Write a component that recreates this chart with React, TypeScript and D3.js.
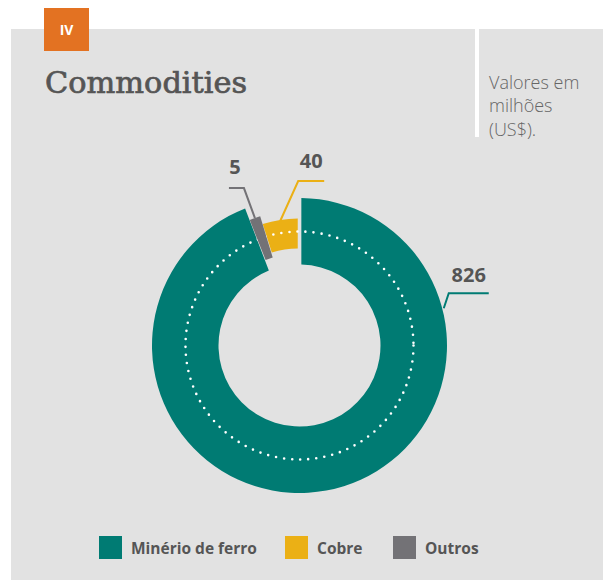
import * as d3 from 'd3';
import React, { useEffect } from 'react';

const categories = ['Minério de ferro', 'Outros', 'Cobre'];
const values = [826, 5, 40];
const colors = ['#007B73', '#737276', '#EBB015'];
const legendOrder = ['Minério de ferro', 'Cobre', 'Outros'];

const W = 603;
const H = 580;
const cx = 299.5;
const cy = 345.5;

type Slice = d3.PieArcDatum<number>;

const App: React.FC = () => {
  useEffect(() => {
    document.body.style.margin = '0';
  }, []);

  const pie = d3.pie<number>().sort(null).value(d => d).padAngle(0.022);
  const slices: Slice[] = pie(values);

  // each ring has its own thickness in the original
  const ring = [
    { inner: 81, outer: 147.5 },
    { inner: 92, outer: 135 },
    { inner: 97, outer: 127 },
  ];

  const arcFor = (i: number) =>
    d3.arc<Slice>().innerRadius(ring[i].inner).outerRadius(ring[i].outer);

  // label leader placement: angle on the ring, elbow offset, label offset
  const leaders = [
    { angle: (75.5 * Math.PI) / 180, r: 149, dx: 5, dy: -15, len: 40, dir: 1, tdx: 20, tdy: -11 },
    { angle: 0, r: 135, dx: -11, dy: -30, len: 15, dir: -1, tdx: -9, tdy: -14 },
    { angle: 0, r: 126, dx: 18, dy: -40, len: 26, dir: 1, tdx: 13, tdy: -13 },
  ];

  const polar = (a: number, r: number): [number, number] => [
    cx + r * Math.sin(a),
    cy - r * Math.cos(a),
  ];

  const legendColor = d3.scaleOrdinal<string, string>().domain(categories).range(colors);
  const legendX = d3.scaleOrdinal<string, number>().domain(legendOrder).range([99, 285, 393]);

  const outrosPath = (s: Slice) =>
    arcFor(1)({ ...s, startAngle: s.startAngle - 0.012, endAngle: s.endAngle + 0.012, padAngle: 0 }) ?? '';

  return (
    <svg width={W} height={H} style={{ display: 'block' }}>
      <rect x={11} y={29} width={W - 11} height={H - 29} fill="#E2E2E2" />
      <rect x={44} y={8} width={45} height={43} fill="#E37222" />
      <text x={66.5} y={35} textAnchor="middle" fill="#fff" fontFamily="'Open Sans', sans-serif" fontWeight={700} fontSize={14}>IV</text>
      <text x={45} y={93} fill="#555" stroke="#555" strokeWidth={0.7} fontFamily="'DejaVu Serif', serif" fontSize={29} textLength={202} lengthAdjust="spacingAndGlyphs">Commodities</text>
      <rect x={475} y={29} width={4} height={108} fill="#fff" />
      <g fill="#666" fontFamily="'Open Sans', sans-serif" fontWeight={300} fontSize={18}>
        <text x={489} y={89}>Valores em</text>
        <text x={489} y={112}>milhões</text>
        <text x={489} y={136}>(US$).</text>
      </g>

      <g transform={`translate(${cx},${cy})`}>
        {slices.map((s, i) =>
          i === 1 ? null : <path key={categories[i]} d={arcFor(i)(s) ?? ''} fill={colors[i]} />
        )}
        <circle r={114} fill="none" stroke="#fff" strokeWidth={2.6} strokeLinecap="round" strokeDasharray="0 8.1" />
        <path d={outrosPath(slices[1])} fill={colors[1]} />
      </g>

      {slices.map((s, i) => {
        const l = leaders[i];
        const a = i === 0 ? l.angle : (s.startAngle + s.endAngle) / 2;
        const [x0, y0] = polar(a, l.r);
        const x1 = x0 + l.dx;
        const y1 = y0 + l.dy;
        const x2 = x1 + l.dir * l.len;
        return (
          <g key={'lab' + i}>
            <polyline points={`${x0},${y0} ${x1},${y1} ${x2},${y1}`} fill="none" stroke={colors[i]} strokeWidth={2} />
            <text x={x1 + l.tdx} y={y1 + l.tdy} textAnchor="middle" fill="#555" fontFamily="'Open Sans', sans-serif" fontWeight={700} fontSize={20}>{values[i]}</text>
          </g>
        );
      })}

      <g fontFamily="'Open Sans', sans-serif" fontWeight={700} fontSize={15.5} fill="#555">
        {legendOrder.map(c => (
          <g key={c} transform={`translate(${legendX(c)},536)`}>
            <rect width={23} height={23} fill={legendColor(c)} />
            <text x={32} y={18}>{c}</text>
          </g>
        ))}
      </g>
    </svg>
  );
};

export default App;
